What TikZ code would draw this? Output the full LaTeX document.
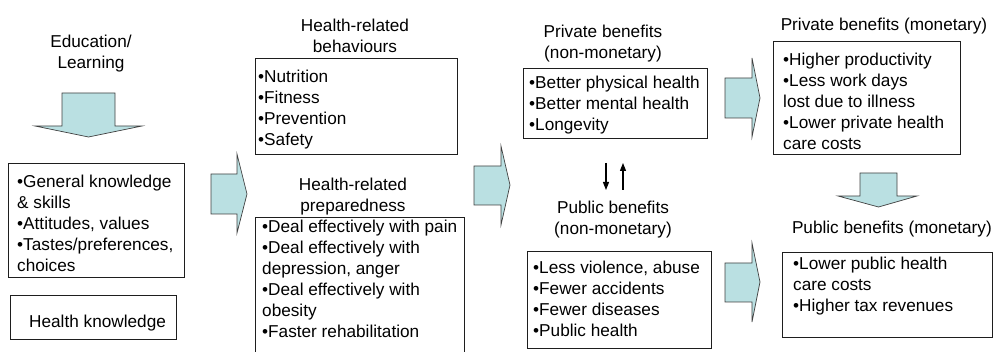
\documentclass[tikz,border=0pt]{standalone}
\usepackage{fontspec}
\setmainfont{Liberation Sans}
\usetikzlibrary{arrows.meta}
\definecolor{blockfill}{RGB}{186,224,226}
\definecolor{edge}{RGB}{30,30,30}
\begin{document}
\begin{tikzpicture}[x=1pt,y=-1pt,
  every node/.style={font=\fontsize{17.2}{21}\selectfont, inner sep=0pt},
  panel/.style={draw=edge, line width=0.9pt, anchor=north west},
  listtext/.style={anchor=north west, align=left},
  heading/.style={anchor=north, align=center},
  block/.style={fill=blockfill, draw=edge!85, line width=0.7pt, line join=miter},
  link/.style={line width=1.1pt, -{Triangle[width=6pt,length=8pt]}}]

\useasboundingbox (0,0) rectangle (994,352);

% ---- column 1: education ----
\node[heading] (edu) at (91,32.3) {\strut Education/\\Learning};
\draw[block] (62,93) -- (115,93) -- (115,126) -- (142,126) -- (88.5,137)
  -- (35,126) -- (62,126) -- cycle;
\node[panel, minimum width=176pt, minimum height=114pt] (general) at (8,163) {};
\node[listtext] (generaltxt) at (17,172.3)
  {\strut •General knowledge\\\& skills\\•Attitudes, values\\•Tastes/preferences,\\choices};
\node[panel, minimum width=166pt, minimum height=44pt] (hk) at (10,295) {};
\node[listtext] (hktxt) at (29,312.3) {\strut Health knowledge};

\draw[block] (211,174) -- (237,174) -- (237,154) -- (247,194) -- (237,233)
  -- (237,214) -- (211,214) -- cycle;

% ---- column 2: behaviours and preparedness ----
\node[heading] (behtitle) at (355,16.3) {\strut Health-related\\behaviours};
\node[panel, minimum width=202pt, minimum height=96pt] (beh) at (255,58) {};
\node[listtext] (behtxt) at (258,67.3)
  {\strut •Nutrition\\•Fitness\\•Prevention\\•Safety};

\node[heading] (preptitle) at (353,175.3) {\strut Health-related\\preparedness};
\node[panel, minimum width=209pt, minimum height=140pt] (prep) at (255,217) {};
\node[listtext] (preptxt) at (262,217.3)
  {\strut •Deal effectively with pain\\•Deal effectively with\\depression, anger\\•Deal effectively with\\obesity\\•Faster rehabilitation};

\draw[block] (474,166) -- (501,166) -- (501,146) -- (510,185) -- (501,225)
  -- (501,205) -- (474,205) -- cycle;

% ---- column 3: non-monetary benefits ----
\node[heading] (privnmtitle) at (603,22.3) {\strut Private benefits\\(non-monetary)};
\node[panel, minimum width=184pt, minimum height=70pt] (privnm) at (523,68) {};
\node[listtext] (privnmtxt) at (529,73.3)
  {\strut •Better physical health\\•Better mental health\\•Longevity};

\coordinate (dtop) at (606,163);
\coordinate (dbot) at (606,190);
\coordinate (ubot) at (623,190);
\coordinate (utop) at (623,163);
\draw[link] (dtop) -- (dbot);
\draw[link] (ubot) -- (utop);

\node[heading] (pubnmtitle) at (613,198.3) {\strut Public benefits\\(non-monetary)};
\node[panel, minimum width=184pt, minimum height=97pt] (pubnm) at (527,251) {};
\node[listtext] (pubnmtxt) at (533,258.3)
  {\strut •Less violence, abuse\\•Fewer accidents\\•Fewer diseases\\•Public health};

\draw[block] (725,78) -- (752,78) -- (752,58) -- (760,98) -- (752,137)
  -- (752,118) -- (725,118) -- cycle;
\draw[block] (725,263) -- (752,263) -- (752,243) -- (760,282) -- (752,322)
  -- (752,302) -- (725,302) -- cycle;

% ---- column 4: monetary benefits ----
\node[heading] (privmtitle) at (884,15.3) {\strut Private benefits (monetary)};
\node[panel, minimum width=187pt, minimum height=113pt] (privm) at (773,41) {};
\node[listtext] (privmtxt) at (783,50.3)
  {\strut •Higher productivity\\•Less work days\\lost due to illness\\•Lower private health\\care costs};

\draw[block] (860,173) -- (897,173) -- (897,196) -- (917,196) -- (878.5,207)
  -- (838,196) -- (860,196) -- cycle;

\node[heading, anchor=north east] (pubmtitle) at (992,218.3) {\strut Public benefits (monetary)};
\node[panel, minimum width=210pt, minimum height=85pt] (pubm) at (782,252) {};
\node[listtext] (pubmtxt) at (793,254.3)
  {\strut •Lower public health\\care costs\\•Higher tax revenues};

\end{tikzpicture}
\end{document}
